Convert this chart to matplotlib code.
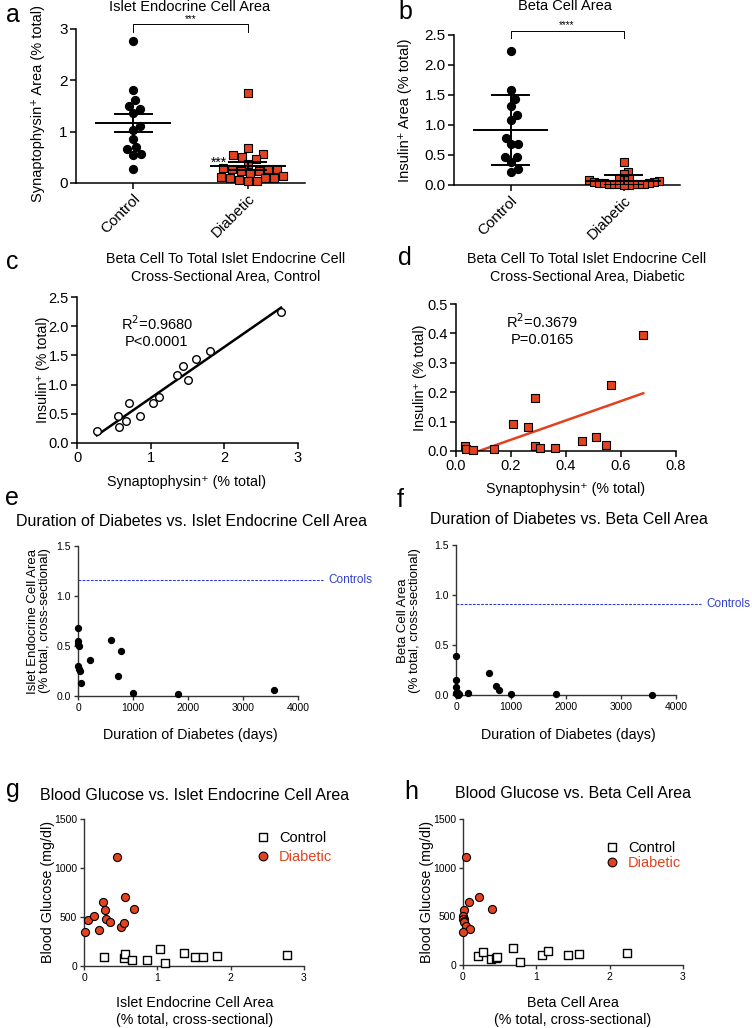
import numpy as np
import matplotlib
matplotlib.use('Agg')
import matplotlib.pyplot as plt
from matplotlib.lines import Line2D

plt.rcParams['font.family'] = ['Liberation Sans', 'DejaVu Sans']
plt.rcParams['axes.linewidth'] = 1.1

# ---------------- data ----------------
groups = ['Control', 'Diabetic']
islet_area_control = [2.77, 1.81, 1.62, 1.50, 1.44, 1.36, 1.11, 1.03, 0.86, 0.70, 0.66, 0.57, 0.55, 0.27]
islet_area_diabetic = [1.75, 0.68, 0.56, 0.54, 0.51, 0.46, 0.37, 0.30, 0.28, 0.28, 0.27, 0.23, 0.23,
                       0.20, 0.13, 0.12, 0.10, 0.10, 0.09, 0.05, 0.03, 0.03]
beta_area_control = [2.23, 1.58, 1.43, 1.32, 1.16, 1.08, 0.78, 0.68, 0.68, 0.47, 0.46, 0.38, 0.27, 0.21]
beta_area_diabetic = [0.39, 0.225, 0.18, 0.11, 0.10, 0.09, 0.08, 0.06, 0.05, 0.045, 0.04, 0.033,
                      0.03, 0.025, 0.02, 0.017, 0.015, 0.012, 0.01, 0.008, 0.005]

c_synaptophysin = [2.77, 1.81, 1.62, 1.44, 1.36, 1.50, 1.11, 1.03, 0.86, 0.55, 0.66, 0.57, 0.27, 0.70]
c_insulin = [2.24, 1.58, 1.43, 1.32, 1.16, 1.08, 0.78, 0.68, 0.46, 0.47, 0.38, 0.27, 0.21, 0.68]

d_synaptophysin = [0.032, 0.038, 0.062, 0.139, 0.206, 0.260, 0.288, 0.307, 0.361, 0.459, 0.510, 0.547,
                   0.288, 0.562, 0.681]
d_insulin = [0.017, 0.006, 0.002, 0.008, 0.091, 0.082, 0.017, 0.011, 0.010, 0.034, 0.046, 0.022,
             0.181, 0.226, 0.394]

duration_days = [0, 0, 0, 10, 0, 15, 40, 60, 220, 600, 790, 720, 1000, 1820, 3560]
duration_islet_area = [0.68, 0.55, 0.52, 0.50, 0.30, 0.27, 0.25, 0.13, 0.36, 0.56, 0.45, 0.20, 0.03, 0.02, 0.06]
duration_beta_area = [0.39, 0.15, 0.08, 0.03, 0.02, 0.01, 0.005, 0.01, 0.02, 0.22, 0.05, 0.09, 0.01, 0.01, 0.005]

g_control_area = [0.27, 0.55, 0.56, 0.66, 0.86, 1.04, 1.11, 1.36, 1.51, 1.62, 1.82, 2.77]
g_control_glucose = [89, 78, 126, 58, 65, 170, 27, 136, 95, 95, 106, 113]
g_diabetic_area = [0.02, 0.05, 0.13, 0.20, 0.26, 0.28, 0.30, 0.36, 0.45, 0.51, 0.55, 0.56, 0.68]
g_diabetic_glucose = [344, 474, 508, 368, 651, 570, 477, 450, 1108, 399, 443, 699, 580]

h_control_area = [0.20, 0.27, 0.38, 0.45, 0.47, 0.68, 0.78, 1.08, 1.16, 1.43, 1.58, 2.23]
h_control_glucose = [92, 130, 62, 72, 86, 175, 27, 99, 140, 99, 110, 120]
h_diabetic_area = [0.04, 0.08, 0.22, 0.39, 0.01, 0.0, 0.01, 0.0, 0.02, 0.01, 0.04, 0.09, 0.0]
h_diabetic_glucose = [1108, 651, 699, 580, 570, 508, 477, 474, 450, 443, 399, 368, 344]

RED = '#E2421F'
BLUE = '#3340C8'
W, H = 752, 1028
fig = plt.figure(figsize=(W / 100, H / 100), dpi=100)


def add_ax(l, t, r, b):
    return fig.add_axes([l / W, 1 - b / H, (r - l) / W, (b - t) / H])


def style(ax, color='black', lw=1.1, tsize=10, tlen=4):
    for s in ('top', 'right'):
        ax.spines[s].set_visible(False)
    for s in ('left', 'bottom'):
        ax.spines[s].set_color(color)
        ax.spines[s].set_linewidth(lw)
    ax.tick_params(direction='out', length=tlen, width=lw, color=color, labelsize=tsize, pad=2)
    ax.patch.set_visible(False)


def ftext(x, y, s, **kw):
    fig.text(x / W, 1 - y / H, s, **kw)


def swarm(ax, center, values, size_px):
    vals = np.asarray(values, float)
    disp = ax.transData.transform(np.column_stack([np.full(len(vals), center), vals]))
    ys = disp[:, 1]
    order = np.argsort(ys)
    cands = [0.0]
    for k in range(1, 400):
        cands += [k * 0.5, -k * 0.5]
    placed = []
    offs = np.zeros(len(vals))
    for i in order:
        y = ys[i]
        for c in cands:
            if all((c - px) ** 2 + (y - py) ** 2 >= size_px ** 2 for px, py in placed):
                break
        placed.append((c, y))
        offs[i] = c
    back = ax.transData.inverted().transform(np.column_stack([disp[:, 0] + offs, ys]))
    return back[:, 0]


def mean_bars(ax, pos, vals, kind):
    v = np.asarray(vals, float)
    m = v.mean()
    e = v.std(ddof=1)
    if kind == 'sem':
        e = e / np.sqrt(len(v))
    lo, hi = max(m - e, 0), m + e
    ax.hlines(m, pos - 0.33, pos + 0.33, color='black', lw=1.4, zorder=4)
    ax.hlines([lo, hi], pos - 0.17, pos + 0.17, color='black', lw=1.4, zorder=4)
    ax.vlines(pos, lo, hi, color='black', lw=1.4, zorder=4)


# ---------------- panel a ----------------
axa = add_ax(76, 29, 305, 183)
style(axa, tsize=11)
axa.set_xlim(-0.5, 1.5)
axa.set_ylim(0, 3)
axa.set_yticks([0, 1, 2, 3])
axa.set_xticks([0, 1])
axa.set_xticklabels(groups, rotation=45, ha='right', rotation_mode='anchor')
xa0 = swarm(axa, 0, islet_area_control, 8.0)
xa1 = swarm(axa, 1, islet_area_diabetic, 9.0)
axa.scatter(xa0, islet_area_control, s=32, color='black', zorder=3, clip_on=False)
axa.scatter(xa1, islet_area_diabetic, s=32, marker='s', color=RED, edgecolors='black',
            linewidths=0.8, zorder=3, clip_on=False)
mean_bars(axa, 0, islet_area_control, 'sem')
mean_bars(axa, 1, islet_area_diabetic, 'sem')
axa.plot([0, 0, 1, 1], [2.94, 3.1, 3.1, 2.94], color='black', lw=0.7, clip_on=False)
axa.text(0.5, 3.2, '***', ha='center', va='center', fontsize=7)
axa.text(0.75, 0.40, '***', ha='center', va='center', fontsize=10, zorder=5)
ftext(190, 7, 'Islet Endocrine Cell Area', ha='center', va='center', fontsize=10.5)
ftext(38, 103, 'Synaptophysin⁺ Area (% total)', rotation=90, ha='center', va='center', fontsize=10.5)
ftext(13, 15, 'a', ha='center', va='center', fontsize=18)

# ---------------- panel b ----------------
axb = add_ax(454, 35, 680, 185)
style(axb, tsize=11)
axb.set_xlim(-0.5, 1.5)
axb.set_ylim(0, 2.5)
axb.set_yticks(np.arange(0, 2.6, 0.5))
axb.set_yticklabels([f'{t:.1f}' for t in np.arange(0, 2.6, 0.5)])
axb.set_xticks([0, 1])
axb.set_xticklabels(groups, rotation=45, ha='right', rotation_mode='anchor')
xb0 = swarm(axb, 0, beta_area_control, 7.5)
xb1 = swarm(axb, 1, beta_area_diabetic, 5.0)
axb.scatter(xb0, beta_area_control, s=32, color='black', zorder=3, clip_on=False)
axb.scatter(xb1, beta_area_diabetic, s=32, marker='s', color=RED, edgecolors='black',
            linewidths=0.8, zorder=3, clip_on=False)
mean_bars(axb, 0, beta_area_control, 'sd')
mean_bars(axb, 1, beta_area_diabetic, 'sd')
axb.plot([0, 0, 1, 1], [2.45, 2.57, 2.57, 2.45], color='black', lw=0.7, clip_on=False)
axb.text(0.5, 2.66, '****', ha='center', va='center', fontsize=7)
ftext(565, 6, 'Beta Cell Area', ha='center', va='center', fontsize=10.5)
ftext(405, 110, 'Insulin⁺ Area (% total)', rotation=90, ha='center', va='center', fontsize=10.5)
ftext(405, 12, 'b', ha='center', va='center', fontsize=18)

# ---------------- panel c ----------------
axc = add_ax(77, 297, 298, 443)
style(axc, tsize=10.5)
axc.set_xlim(0, 3)
axc.set_ylim(0, 2.5)
axc.set_xticks([0, 1, 2, 3])
axc.set_yticks(np.arange(0, 2.6, 0.5))
axc.set_yticklabels([f'{t:.1f}' for t in np.arange(0, 2.6, 0.5)])
axc.scatter(c_synaptophysin, c_insulin, s=30, facecolors='white', edgecolors='black', linewidths=1.0, zorder=3)
k, b0 = np.polyfit(c_synaptophysin, c_insulin, 1)
xs = np.array([min(c_synaptophysin), max(c_synaptophysin)])
axc.plot(xs, k * xs + b0, color='black', lw=1.8, zorder=2)
ftext(157, 324, 'R$^2$=0.9680', ha='center', va='center', fontsize=10.5)
ftext(157, 342, 'P<0.0001', ha='center', va='center', fontsize=10.5)
ftext(226, 259, 'Beta Cell To Total Islet Endocrine Cell', ha='center', va='center', fontsize=10.3)
ftext(226, 277, 'Cross-Sectional Area, Control', ha='center', va='center', fontsize=10.3)
ftext(187, 482, 'Synaptophysin⁺ (% total)', ha='center', va='center', fontsize=10.3)
ftext(43, 370, 'Insulin⁺ (% total)', rotation=90, ha='center', va='center', fontsize=10.3)
ftext(12, 262, 'c', ha='center', va='center', fontsize=18)

# ---------------- panel d ----------------
axd = add_ax(456, 304, 676, 451)
style(axd, tsize=10.5)
axd.set_xlim(0, 0.8)
axd.set_ylim(0, 0.5)
axd.set_xticks(np.arange(0, 0.81, 0.2))
axd.set_xticklabels([f'{t:.1f}' for t in np.arange(0, 0.81, 0.2)])
axd.set_yticks(np.arange(0, 0.51, 0.1))
axd.set_yticklabels([f'{t:.1f}' for t in np.arange(0, 0.51, 0.1)])
axd.scatter(d_synaptophysin, d_insulin, s=30, marker='s', color=RED, edgecolors='black',
            linewidths=0.8, zorder=3, clip_on=False)
k, b0 = np.polyfit(d_synaptophysin, d_insulin, 1)
xs = np.array([min(d_synaptophysin), max(d_synaptophysin)])
axd.plot(xs, k * xs + b0, color=RED, lw=1.8, zorder=2)
ftext(542, 322, 'R$^2$=0.3679', ha='center', va='center', fontsize=10.5)
ftext(542, 340, 'P=0.0165', ha='center', va='center', fontsize=10.5)
ftext(587, 259, 'Beta Cell To Total Islet Endocrine Cell', ha='center', va='center', fontsize=10.3)
ftext(587, 277, 'Cross-Sectional Area, Diabetic', ha='center', va='center', fontsize=10.3)
ftext(566, 489, 'Synaptophysin⁺ (% total)', ha='center', va='center', fontsize=10.3)
ftext(420, 378, 'Insulin⁺ (% total)', rotation=90, ha='center', va='center', fontsize=10.3)
ftext(405, 258, 'd', ha='center', va='center', fontsize=18)

# ---------------- panels e / f ----------------
GRAY = '#333333'


def duration_panel(ax, yvals, ctrl_mean, title, tx, ty, ylabel, ylx, lbl, lx, ly, xlx):
    style(ax, color=GRAY, lw=1.0, tsize=7.5, tlen=3)
    ax.set_xlim(0, 4000)
    ax.set_ylim(0, 1.5)
    ax.set_xticks([0, 1000, 2000, 3000, 4000])
    ax.set_yticks([0, 0.5, 1.0, 1.5])
    ax.set_yticklabels(['0.0', '0.5', '1.0', '1.5'])
    ax.scatter(duration_days, yvals, s=18, color='black', zorder=3, clip_on=False)
    ax.plot([0, 4450], [ctrl_mean, ctrl_mean], color=BLUE, lw=0.8, ls=(0, (2.5, 1.2)), clip_on=False)
    ax.text(4560, ctrl_mean, 'Controls', color=BLUE, fontsize=8.5, ha='left', va='center')
    ftext(tx, ty, title, ha='center', va='center', fontsize=11.5)
    ftext(ylx, 621, ylabel, rotation=90, ha='center', va='center', fontsize=9.5, linespacing=1.1)
    ftext(xlx, 735, 'Duration of Diabetes (days)', ha='center', va='center', fontsize=10.3)
    ftext(lx, ly, lbl, ha='center', va='center', fontsize=18)


axe = add_ax(78, 546, 298, 696)
duration_panel(axe, duration_islet_area, np.mean(islet_area_control),
               'Duration of Diabetes vs. Islet Endocrine Cell Area', 191, 522,
               'Islet Endocrine Cell Area\n(% total, cross-sectional)', 39, 'e', 12, 498, 190)
axf = add_ax(456, 545, 676, 695)
duration_panel(axf, duration_beta_area, np.mean(beta_area_control),
               'Duration of Diabetes vs. Beta Cell Area', 569, 519,
               'Beta Cell Area\n(% total, cross-sectional)', 409, 'f', 400, 500, 568)

# ---------------- panels g / h ----------------


def glucose_panel(ax, cx, cy, dx, dy, title, tx, ty, xl1, xlx, lbl, lx, ly, ylx, leg_xy, lsp):
    style(ax, color=GRAY, lw=1.0, tsize=7.5, tlen=3)
    ax.set_xlim(0, 3)
    ax.set_ylim(0, 1500)
    ax.set_xticks([0, 1, 2, 3])
    ax.set_yticks([0, 500, 1000, 1500])
    ax.scatter(cx, cy, s=32, marker='s', facecolors='white', edgecolors='black', linewidths=1.0,
               zorder=3, clip_on=False)
    ax.scatter(dx, dy, s=34, marker='o', color=RED, edgecolors='black', linewidths=0.8,
               zorder=3, clip_on=False)
    handles = [Line2D([], [], ls='none', marker='s', ms=6, mfc='white', mec='black', mew=1.0),
               Line2D([], [], ls='none', marker='o', ms=6.3, mfc=RED, mec='black', mew=0.8)]
    leg = ax.legend(handles, groups, loc='upper left', bbox_to_anchor=leg_xy, frameon=False,
                    fontsize=10.5, handlelength=1.0, handletextpad=0.6, labelspacing=lsp,
                    borderpad=0, borderaxespad=0)
    leg.get_texts()[1].set_color(RED)
    ftext(tx, ty, title, ha='center', va='center', fontsize=11.5)
    ftext(xlx, 1003, xl1, ha='center', va='center', fontsize=10.3)
    ftext(xlx, 1020, '(% total, cross-sectional)', ha='center', va='center', fontsize=10.3)
    ftext(ylx, 892, 'Blood Glucose (mg/dl)', rotation=90, ha='center', va='center', fontsize=10.3)
    ftext(lx, ly, lbl, ha='center', va='center', fontsize=18)


axg = add_ax(84, 819, 304, 966)
glucose_panel(axg, g_control_area, g_control_glucose, g_diabetic_area, g_diabetic_glucose,
              'Blood Glucose vs. Islet Endocrine Cell Area', 195, 795, 'Islet Endocrine Cell Area', 195,
              'g', 13, 790, 48, (0.78, 0.92), 0.35)
axh = add_ax(463, 819, 683, 965)
glucose_panel(axh, h_control_area, h_control_glucose, h_diabetic_area, h_diabetic_glucose,
              'Blood Glucose vs. Beta Cell Area', 573, 793, 'Beta Cell Area', 573,
              'h', 411, 792, 427, (0.645, 0.85), 0.05)

fig.savefig('out.png', dpi=100)
